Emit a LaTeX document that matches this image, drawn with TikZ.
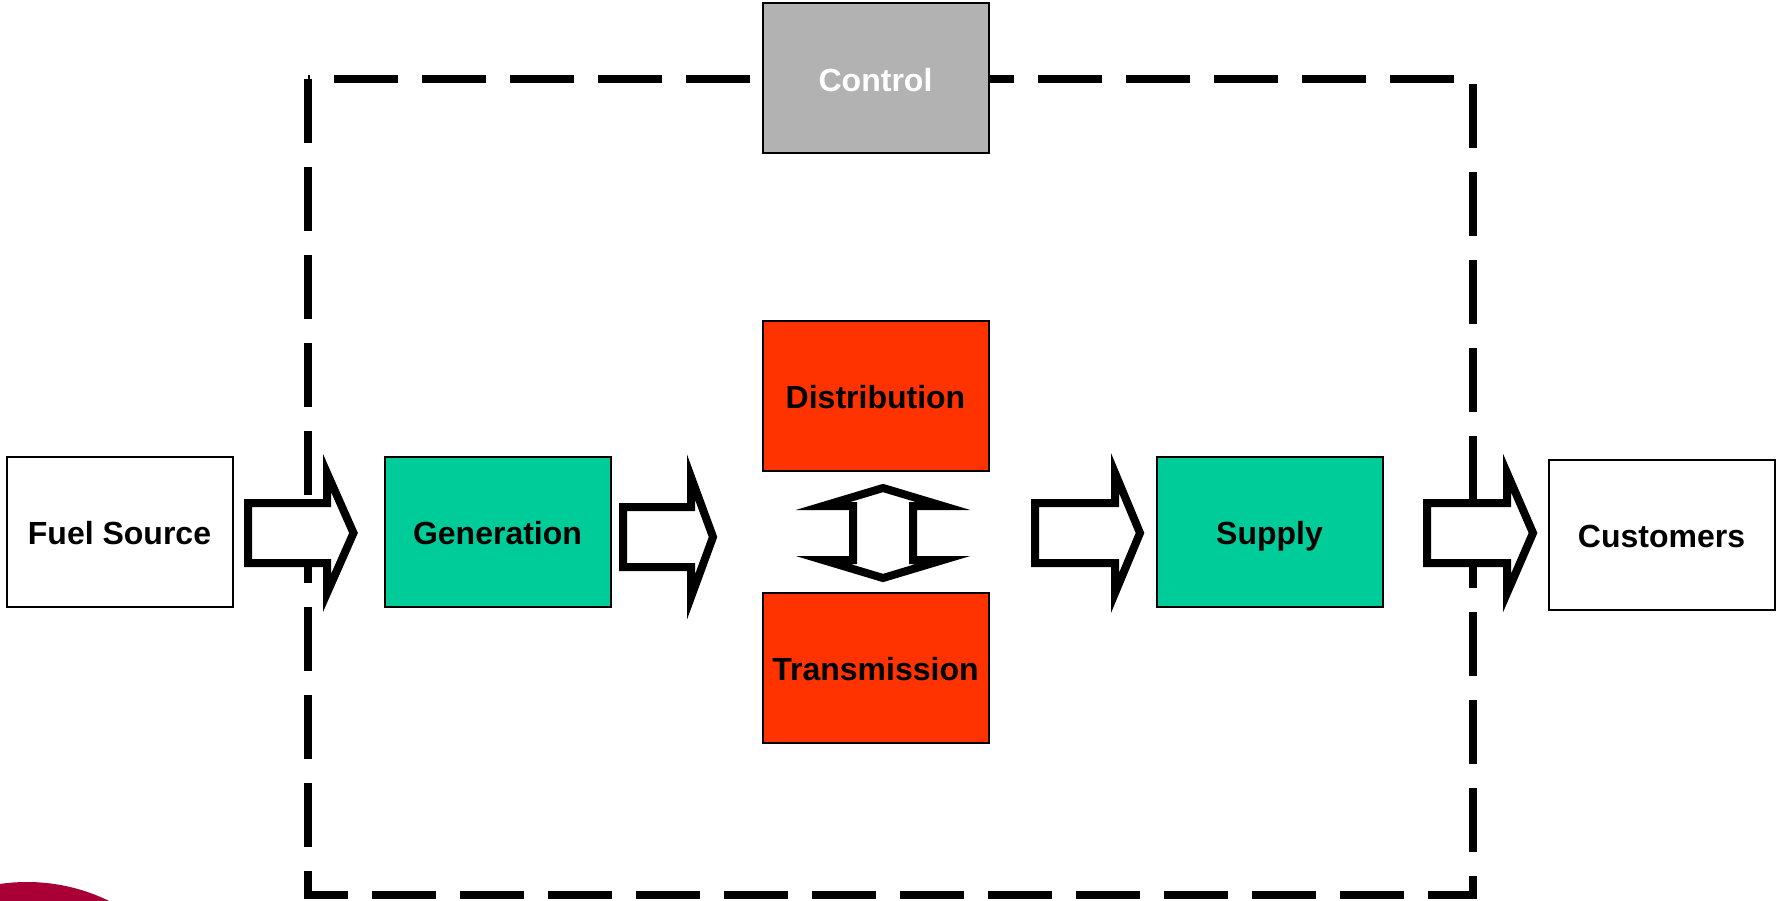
\documentclass[tikz,border=0pt]{standalone}
\usepackage{fontspec}
\setmainfont{Liberation Sans}
\definecolor{boxgreen}{HTML}{00CC99}
\definecolor{boxred}{HTML}{FF3300}
\definecolor{boxgrey}{HTML}{B2B2B2}
\definecolor{logored}{HTML}{A80036}
\newcommand{\blockarrow}[5]{% name, left x, centre y, neck, tip
  \coordinate (#1) at (#2,#3);
  \draw[blockarrow] (#1) ++(0,-30) -- ++(#4,0) -- ++(0,-30)
    -- ($(#1)+(#5,0)$) -- ($(#1)+(#4,60)$) -- ++(0,-30) -- ($(#1)+(0,30)$) -- cycle;
}
\usetikzlibrary{calc}
\tikzset{
  x=1pt,y=-1pt,
  box/.style={draw=black,line width=2pt,inner sep=0pt,outer sep=0pt,
    minimum width=226pt,minimum height=150pt,align=center,
    font=\bfseries\fontsize{32}{38}\selectfont,text height=25pt,text depth=0pt},
  blockarrow/.style={draw=black,fill=white,line width=8pt,miter limit=12,line join=miter},
  frame/.style={draw=black,line width=8pt,dash pattern=on 64pt off 24pt},
}
\begin{document}
\begin{tikzpicture}
\useasboundingbox (0,0) rectangle (1776,901);
% logo fragment
\begin{scope}
  \clip (0,0) rectangle (1776,901);
  \fill[logored] (27,1069) circle[radius=187];
\end{scope}
% dashed frame
\coordinate (fa) at (308,79);
\coordinate (fb) at (308,895);
\coordinate (fc) at (1473,895);
\coordinate (fd) at (1473,79);
\draw[frame] (fa) -- (fb) -- (fc) -- (fd) -- (fa);
% boxes
\node[box,fill=boxgrey,text=white,text height=27pt] (control) at (875.5,78) {Control};
\node[box,fill=boxred] (distribution) at (875.5,396) {Distribution};
\node[box,fill=boxred] (transmission) at (875.5,667.5) {Transmission};
\node[box,fill=white] (fuel) at (119.5,532) {Fuel Source};
\node[box,fill=boxgreen] (generation) at (497.5,532) {Generation};
\node[box,fill=boxgreen] (supply) at (1269.5,532) {Supply};
\node[box,fill=white] (customers) at (1661.5,534.5) {Customers};
% block arrows
\blockarrow{aone}{248}{533}{79}{105.5}
\blockarrow{atwo}{623}{537}{68}{90}
\blockarrow{athree}{1035}{533}{80}{105}
\blockarrow{afour}{1427}{533}{80}{106}
% double arrow between distribution and transmission
\coordinate (dbl) at (883,533);
\draw[blockarrow] (883,488) -- (943,506) -- (913,506) -- (913,560) -- (943,560)
  -- (883,578) -- (823,560) -- (853,560) -- (853,506) -- (823,506) -- cycle;
\end{tikzpicture}
\end{document}
